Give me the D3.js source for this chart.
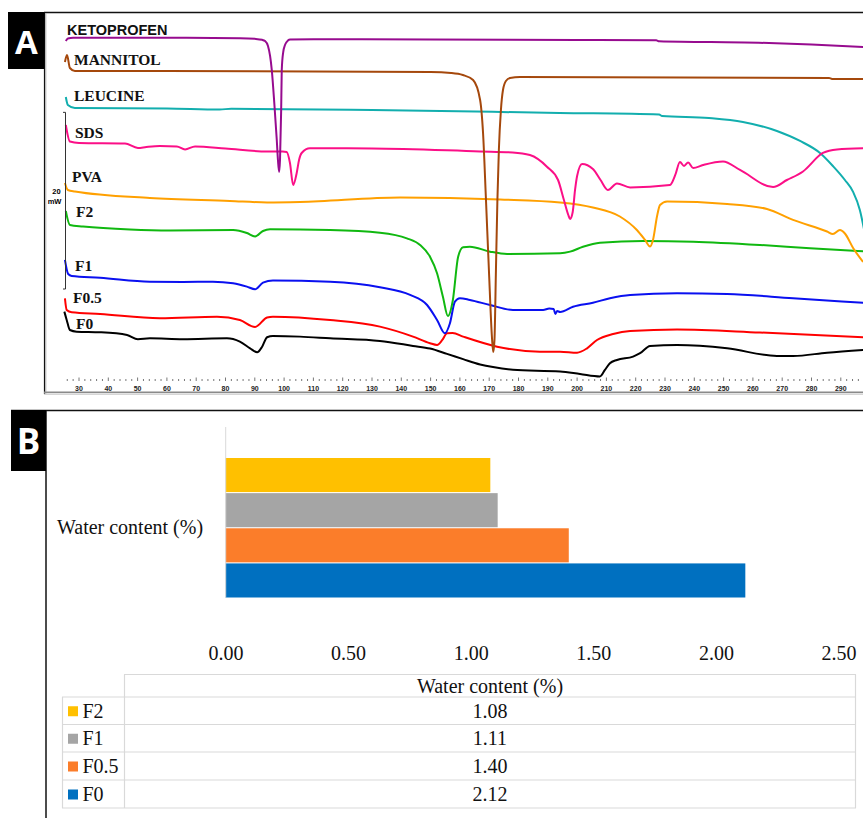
<!DOCTYPE html>
<html>
<head>
<meta charset="utf-8">
<script src="https://cdn.jsdelivr.net/npm/d3@7"></script>
<style>
  html, body { margin: 0; padding: 0; background: #fff; }
  svg { display: block; }
</style>
</head>
<body>
<svg id="fig" width="863" height="818"></svg>
<script>
// ---------- Panel A: DSC thermograms, [temperature °C, heat flow mW] ----------
const ketoprofen = [[25.5,38.71],[26.2,39.0],[28,39.08],[60,39.08],[85,39.03],[90,38.96],[92.5,38.85],[93.5,38.71],[94.5,38.15],[95.8,35.43],[96.7,31.47],[97.5,27.51],[97.9,25.24],[98.3,23.89],[98.6,25.24],[99.0,30.91],[99.2,35.43],[99.7,37.47],[100.3,38.26],[101,38.66],[102,38.88],[110,38.91],[150,38.88],[200,38.83],[227,38.79],[228,38.69],[262,38.52],[280,38.32],[298,38.04]];
const mannitol = [[25.2,36.34],[25.9,37.13],[26.9,35.66],[28.6,35.32],[60,35.32],[150,35.21],[157,35.10],[161,34.87],[164.5,34.30],[166.9,32.04],[167.9,28.3],[168.9,20.72],[169.9,12.80],[171,4.87],[171.4,3.51],[171.8,4.87],[172.3,12.80],[172.8,20.72],[173.3,26.38],[174,30.91],[174.7,33.17],[175.7,34.19],[177.1,34.53],[180.5,34.64],[286,34.53],[287,34.42],[298,34.42]];
const leucine = [[25.5,32.38],[26.2,31.47],[28.6,31.13],[60,31.08],[78,30.96],[82,31.05],[130,30.91],[194,30.57],[228,30.40],[229,30.23],[245,30.00],[256.6,29.55],[268.2,28.53],[276.1,27.40],[282.9,26.04],[287.3,24.57],[291.4,22.98],[294.2,21.63],[296.5,19.59],[298.3,16.76]];
const sds = [[25.5,29.21],[26.9,27.34],[30,27.17],[45.7,27.12],[50.1,26.61],[53,26.72],[57.6,26.83],[63.4,26.78],[66.2,26.44],[69.6,26.78],[80,26.55],[94.2,26.21],[97.6,26.21],[99.5,26.21],[100.9,26.15],[102,24.91],[103.1,22.42],[104.3,23.78],[105.1,25.25],[106,26.04],[108.8,26.57],[130,26.55],[166.9,26.21],[178,26.10],[183.9,25.81],[189.7,24.49],[193.5,22.98],[195.5,20.72],[197,19.02],[197.6,18.57],[198.5,19.36],[199.3,21.85],[200,23.44],[201.7,24.79],[205.4,24.23],[208,22.98],[210.5,21.85],[213.6,22.59],[218.1,22.14],[231.7,22.42],[233.5,23.55],[235.1,25.02],[236.5,24.57],[237.9,24.96],[239.6,24.34],[243,24.68],[249.8,25.08],[255.6,24.12],[266.9,22.19],[271.6,22.98],[277.1,23.95],[283.9,26.04],[288.7,26.44],[297.6,26.57]];
const pva = [[25.2,22.64],[26.2,21.85],[28.6,21.68],[54.2,20.95],[81.5,20.61],[94.2,20.44],[105.4,20.49],[139.6,21.00],[173.7,20.78],[194.2,20.44],[205.4,19.87],[214.6,18.85],[220.4,17.32],[223.2,16.19],[224.9,15.46],[225.9,16.19],[227.3,18.91],[228.3,20.15],[230.7,20.55],[251.2,20.27],[264.8,19.70],[273.7,18.46],[285.3,17.15],[287.3,16.87],[289.7,17.32],[291.4,16.93],[294.2,15.29],[297.6,13.70]];
const f2 = [[25.5,19.47],[26.9,17.89],[31.4,17.72],[47.4,17.38],[61.1,17.27],[82.6,17.32],[87.3,16.98],[90.1,16.59],[92.8,17.21],[95.2,17.40],[115.7,17.32],[132.7,17.02],[141.9,16.38],[146.4,15.63],[149.8,14.30],[152.2,12.42],[154.2,9.77],[155.9,7.59],[157.6,9.40],[159.4,14.30],[161.1,15.37],[163.4,15.43],[170.3,14.87],[176.1,14.61],[194.2,14.69],[197.6,14.87],[202,15.43],[207.8,15.89],[222.5,16.08],[239.6,16.00],[262.4,15.63],[279.5,15.25],[297.6,14.91]];
const f1 = [[25.2,13.93],[26.3,12.34],[27.5,12.12],[37.2,11.92],[54.2,11.47],[65.5,11.44],[75.7,11.47],[82.6,11.29],[87.3,10.91],[90.1,10.61],[92.8,11.36],[96.2,11.61],[115.7,11.47],[132.7,10.84],[143,9.97],[148.8,8.83],[152.2,7.14],[154.9,5.63],[156.6,6.76],[158.3,9.21],[160,9.60],[163.4,9.40],[170.3,8.83],[178.1,8.27],[188.4,8.27],[190.5,8.44],[192,8.38],[192.6,7.81],[193.2,8.15],[194.2,8.04],[198.6,8.64],[205.4,9.09],[211.2,9.60],[218.1,9.97],[234.1,10.16],[251.2,10.08],[273.7,9.60],[297.6,9.08]];
const f05 = [[25.2,9.59],[25.8,8.27],[27.5,8.01],[37.2,7.81],[57.6,7.33],[77.1,7.51],[84.9,7.13],[90.1,6.34],[94.2,7.42],[96.2,7.51],[115.7,7.13],[132.7,6.38],[144,5.25],[149.8,4.50],[152.2,4.31],[154,4.87],[155.6,5.63],[157.5,5.66],[161.1,5.25],[172.7,4.11],[187.3,3.55],[194.2,3.55],[200,3.43],[203.4,3.93],[206.8,4.87],[212.3,5.55],[218.1,5.89],[234.1,6.06],[262.4,5.72],[297.6,5.18]];
const f0 = [[25,8.08],[25.8,7.14],[26.9,6.00],[29.2,5.81],[37.2,5.74],[46.4,5.44],[50.1,4.95],[54.2,5.06],[65.5,4.95],[80.5,5.06],[84.9,4.68],[88.4,3.93],[90.8,3.48],[92.5,4.11],[94.2,5.18],[96.2,5.32],[105.4,5.25],[115.7,5.06],[132.7,4.76],[144,4.2],[149.8,3.9],[155.6,3.3],[161.1,2.7],[166.9,2.1],[171.3,1.8],[178.1,1.5],[194.2,1.30],[201,1.02],[207.8,0.74],[209.5,1.48],[211.2,2.23],[213.6,2.61],[219.1,2.98],[221.5,3.37],[224.9,4.19],[234.1,4.30],[251.2,3.93],[268.2,3.06],[273.7,3.06],[285.3,3.43],[297.6,3.74]];

const traceNames = ["F0", "F0.5", "F1", "F2", "PVA", "LEUCINE", "SDS", "MANNITOL", "KETOPROFEN"];
const traceData  = [f0, f05, f1, f2, pva, leucine, sds, mannitol, ketoprofen];
const tempTickLabels = [30,40,50,60,70,80,90,100,110,120,130,140,150,160,170,180,190,200,210,220,230,240,250,260,270,280,290];
const scaleBarMW = 20;

// ---------- Panel B: water content ----------
const formulations = ["F2", "F1", "F0.5", "F0"];
const waterContent = [1.08, 1.11, 1.40, 2.12];
const waterTicks = [0, 0.5, 1.0, 1.5, 2.0, 2.5];
const waterSeriesName = "Water content (%)";

// ---------- styles ----------
const traceColor = {
  "F0": "#000000", "F0.5": "#ff0000", "F1": "#0a10f0", "F2": "#10b810",
  "PVA": "#ffa000", "LEUCINE": "#12aeae", "SDS": "#fb0f87",
  "MANNITOL": "#a5480c", "KETOPROFEN": "#970b8f"
};
const traceLabelPos = {
  "KETOPROFEN": [67, 35], "MANNITOL": [74, 65], "LEUCINE": [74, 101],
  "SDS": [75, 138], "PVA": [72, 182], "F2": [76, 217],
  "F1": [75, 271], "F0.5": [73, 303], "F0": [76, 329]
};
const barColor = { "F2": "#ffc000", "F1": "#a5a5a5", "F0.5": "#fb7d2a", "F0": "#0070c0" };

const svg = d3.select("#fig");
svg.append("rect").attr("width", 863).attr("height", 818).attr("fill", "#fff");

// ================= Panel A =================
const x = d3.scaleLinear().domain([30, 290]).range([79, 840.8]);
const y = d3.scaleLinear().domain([0, 42]).range([383, 12]);

svg.append("defs").append("clipPath").attr("id", "plotA")
  .append("rect").attr("x", 45).attr("y", 13).attr("width", 830).attr("height", 378);

const gA = svg.append("g");
const line = d3.line().x(d => x(d[0])).y(d => y(d[1])).curve(d3.curveMonotoneX);

gA.append("g").attr("clip-path", "url(#plotA)")
  .selectAll("path").data(traceData).join("path")
  .attr("d", line)
  .attr("fill", "none")
  .attr("stroke", (d, i) => traceColor[traceNames[i]])
  .attr("stroke-width", 2)
  .attr("stroke-linejoin", "round");

// trace names
gA.selectAll("text.trace").data(traceNames).join("text")
  .attr("class", "trace")
  .attr("x", d => traceLabelPos[d][0])
  .attr("y", d => traceLabelPos[d][1])
  .attr("font-family", d => d === "KETOPROFEN" ? "'Liberation Sans', Arial, sans-serif" : "'Liberation Serif', 'Times New Roman', serif")
  .attr("font-size", d => d === "KETOPROFEN" ? 14.5 : 15.5)
  .attr("font-weight", "bold")
  .attr("fill", "#111")
  .text(d => d);

// 20 mW scale bar
const barBase = 10.64;
gA.append("path")
  .attr("d", `M63,${y(barBase + scaleBarMW)}H65.5V${y(barBase)}H63`)
  .attr("fill", "none").attr("stroke", "#333").attr("stroke-width", 1);
gA.append("text").attr("x", 56.5).attr("y", 194).attr("text-anchor", "middle")
  .attr("font-family", "'Liberation Sans', Arial, sans-serif").attr("font-size", 7.5).attr("font-weight", "bold")
  .text(scaleBarMW);
gA.append("text").attr("x", 54.5).attr("y", 203.5).attr("text-anchor", "middle")
  .attr("font-family", "'Liberation Sans', Arial, sans-serif").attr("font-size", 7.5).attr("font-weight", "bold")
  .text("mW");

// temperature axis: minor ticks every 2 °C, labelled every 10 °C
const axisA = gA.append("g").attr("transform", "translate(0,381)");
axisA.selectAll("line.minor").data(d3.range(26, 300, 2)).join("line")
  .attr("x1", d => x(d)).attr("x2", d => x(d))
  .attr("y1", d => d % 10 === 0 ? -3.5 : -2).attr("y2", 0)
  .attr("stroke", "#555").attr("stroke-width", 0.8);
axisA.selectAll("text").data(tempTickLabels).join("text")
  .attr("x", d => x(d)).attr("y", 10)
  .attr("text-anchor", "middle")
  .attr("font-family", "'Liberation Sans', Arial, sans-serif")
  .attr("font-size", 7).attr("font-weight", "bold").attr("fill", "#222")
  .text(d => d);

// frame of panel A
gA.append("line").attr("x1", 44).attr("x2", 863).attr("y1", 12.5).attr("y2", 12.5).attr("stroke", "#111").attr("stroke-width", 1.3);
gA.append("line").attr("x1", 44.5).attr("x2", 44.5).attr("y1", 12).attr("y2", 394).attr("stroke", "#111").attr("stroke-width", 1.2);
gA.append("line").attr("x1", 45.8).attr("x2", 45.8).attr("y1", 13).attr("y2", 394).attr("stroke", "#aaa").attr("stroke-width", 1);
gA.append("line").attr("x1", 44).attr("x2", 863).attr("y1", 392.3).attr("y2", 392.3).attr("stroke", "#8a8a8a").attr("stroke-width", 1.6);
gA.append("line").attr("x1", 44).attr("x2", 863).attr("y1", 394.2).attr("y2", 394.2).attr("stroke", "#c8c8c8").attr("stroke-width", 1.2);

svg.append("rect").attr("x", 8).attr("y", 12).attr("width", 36.5).attr("height", 57).attr("fill", "#000");
svg.append("text").attr("x", 26.5).attr("y", 53.5).attr("text-anchor", "middle")
  .attr("font-family", "'Open Sans', 'Liberation Sans', sans-serif").attr("font-weight", "bold")
  .attr("font-size", 33).attr("fill", "#fff").text("A");

// ================= Panel B =================
const gB = svg.append("g");
gB.append("line").attr("x1", 11).attr("x2", 863).attr("y1", 410.5).attr("y2", 410.5).attr("stroke", "#111").attr("stroke-width", 1.3);
gB.append("line").attr("x1", 46).attr("x2", 46).attr("y1", 410).attr("y2", 818).attr("stroke", "#111").attr("stroke-width", 1.5);
svg.append("rect").attr("x", 11).attr("y", 410).attr("width", 35).attr("height", 61).attr("fill", "#000");
svg.append("text").attr("x", 28.5).attr("y", 453.5).attr("text-anchor", "middle")
  .attr("font-family", "'Open Sans', 'Liberation Sans', sans-serif").attr("font-weight", "bold")
  .attr("font-size", 35).attr("fill", "#fff").text("B");

const xw = d3.scaleLinear().domain([0, 2.5]).range([225.5, 838.5]);
const yb = d3.scaleBand().domain(formulations).range([458, 597.5]).paddingInner(0.03);

gB.selectAll("rect.bar").data(formulations).join("rect")
  .attr("class", "bar")
  .attr("x", xw(0))
  .attr("y", d => yb(d))
  .attr("width", (d, i) => xw(waterContent[i]) - xw(0))
  .attr("height", yb.bandwidth())
  .attr("fill", d => barColor[d]);

gB.append("line").attr("x1", 225.7).attr("x2", 225.7).attr("y1", 427).attr("y2", 597.5)
  .attr("stroke", "#d9d9d9").attr("stroke-width", 1);

const serif = "'Liberation Serif', 'Times New Roman', serif";
gB.append("text").attr("x", 57).attr("y", 534)
  .attr("font-family", serif).attr("font-size", 20).attr("fill", "#111")
  .text(waterSeriesName);

const axisB = gB.append("g").attr("transform", "translate(0,660)")
  .call(d3.axisBottom(xw).tickValues(waterTicks).tickFormat(d3.format(".2f")).tickSize(0).tickPadding(0));
axisB.select(".domain").remove();
axisB.selectAll("text").attr("y", 0).attr("dy", null)
  .attr("font-family", serif).attr("font-size", 20).attr("fill", "#111");

// data table with legend keys
const tbl = gB.append("g");
const rowY = [697, 724.5, 752, 780, 808];
const gridColor = "#d9d9d9";
const hLine = (x1, x2, yy) => tbl.append("line").attr("x1", x1).attr("x2", x2).attr("y1", yy).attr("y2", yy).attr("stroke", gridColor).attr("stroke-width", 1.2);
const vLine = (xx, y1, y2) => tbl.append("line").attr("x1", xx).attr("x2", xx).attr("y1", y1).attr("y2", y2).attr("stroke", gridColor).attr("stroke-width", 1.2);
hLine(124, 856, 674.5);
rowY.forEach(r => hLine(62, 856, r));
vLine(62.5, 697, 808);
vLine(124.5, 674.5, 808);
vLine(855.5, 674.5, 808);

tbl.append("text").attr("x", 490).attr("y", 693).attr("text-anchor", "middle")
  .attr("font-family", serif).attr("font-size", 20).attr("fill", "#111").text(waterSeriesName);

formulations.forEach((f, i) => {
  const top = rowY[i], mid = (rowY[i] + rowY[i + 1]) / 2;
  tbl.append("rect").attr("x", 68).attr("y", mid - 4.5).attr("width", 10).attr("height", 10).attr("fill", barColor[f]);
  tbl.append("text").attr("x", 82.5).attr("y", mid + 7)
    .attr("font-family", serif).attr("font-size", 20).attr("fill", "#111").text(f);
  tbl.append("text").attr("x", 490).attr("y", mid + 7).attr("text-anchor", "middle")
    .attr("font-family", serif).attr("font-size", 20).attr("fill", "#111")
    .text(d3.format(".2f")(waterContent[i]));
});
</script>
</body>
</html>
